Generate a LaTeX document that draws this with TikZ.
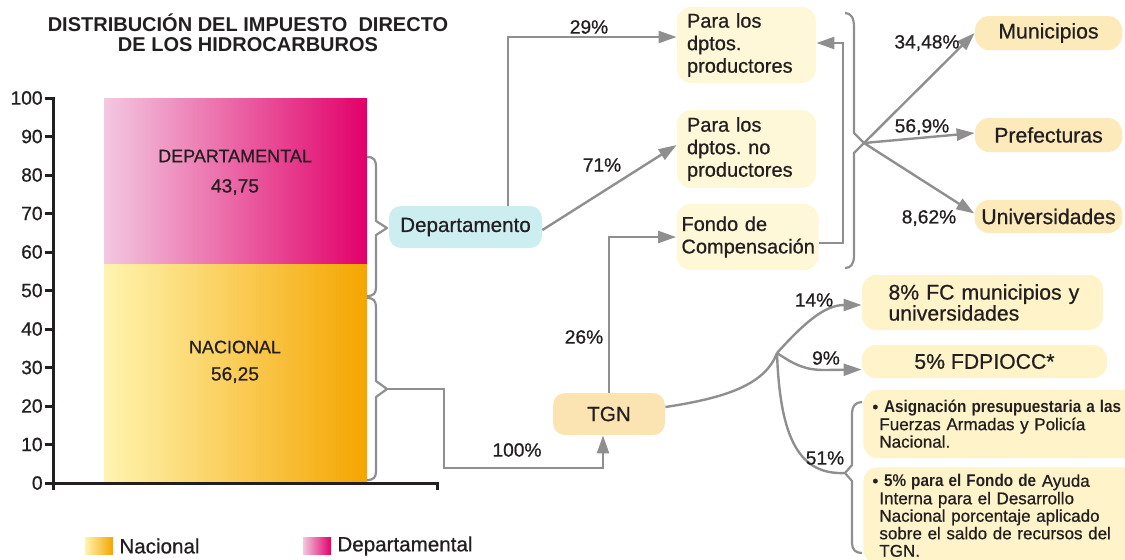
\documentclass[tikz,border=0pt]{standalone}
\usepackage{fontspec}
\setmainfont{Liberation Sans}[UprightFeatures={FakeBold=0.7}]
\usetikzlibrary{arrows.meta,calc}
\frenchspacing
\definecolor{ink}{HTML}{231F20}
\definecolor{cgray}{HTML}{8F8F8F}
\definecolor{pinkL}{HTML}{F3C8E0}
\definecolor{mag}{HTML}{E2006A}
\definecolor{yelL}{HTML}{FFF4B0}
\definecolor{orng}{HTML}{F5A500}
\definecolor{cyanF}{HTML}{CDEEF0}
\definecolor{paleY}{HTML}{FFF8D8}
\definecolor{tanY}{HTML}{FCEABB}
\definecolor{tgnF}{HTML}{FCE3B2}
\definecolor{boxY}{HTML}{FEF3C9}
\tikzset{
  conn/.style={draw=cgray, line width=1.2pt},
  arr/.style={conn, -{Triangle[length=9pt,width=6pt]}},
  bracep/.style={draw=cgray, line width=1.1pt, line join=round},
  axisl/.style={draw=ink, line width=1.5pt},
  lab/.style={font=\fontsize{9.6}{11}\selectfont, text=ink, inner sep=0pt},
  ticklab/.style={font=\fontsize{9.6}{11}\selectfont, text=ink, inner sep=0pt, anchor=east},
  barlab/.style={font=\fontsize{9}{11}\selectfont, text=ink, inner sep=0pt},
  barval/.style={font=\fontsize{9.6}{11}\selectfont, text=ink, inner sep=0pt},
  boxbase/.style={rounded corners=7pt, inner ysep=0pt, text=ink},
  leftbox/.style={boxbase, fill=paleY, align=left, font=\fontsize{10}{11.25}\selectfont},
  tanbox/.style={boxbase, fill=tanY, font=\fontsize{10.6}{12}\selectfont, minimum width=73.5pt},
  ybox/.style={boxbase, fill=boxY, font=\fontsize{10.6}{10.5}\selectfont},
  smallbox/.style={boxbase, fill=boxY, align=left, font=\fontsize{8.5}{8.75}\selectfont, text width=136pt, inner xsep=8pt},
}
\begin{document}
\begin{tikzpicture}[x=0.5pt,y=-0.5pt]
\useasboundingbox (0,0) rectangle (1125,559);

% title
\node[font=\fontsize{10}{9.75}\selectfont\bfseries, text=ink, align=center, inner sep=0pt] (title) at (248,32.5)
  {DISTRIBUCIÓN DEL IMPUESTO\ \ DIRECTO\\DE LOS HIDROCARBUROS};

% bar
\fill[left color=pinkL, right color=mag] (104,98) rectangle (367,264);
\fill[left color=yelL, right color=orng] (104,264) rectangle (367,481);
\node[barlab] (deplab) at (235,156) {DEPARTAMENTAL};
\node[barval] (depval) at (235,187) {43,75};
\node[barlab] (nalab) at (235,347) {NACIONAL};
\node[barval] (naval) at (235,375) {56,25};

% axes
\draw[axisl] (53,97) -- (53,490);
\draw[axisl] (53,483) -- (437,483) -- (437,490);
\foreach \v in {0,10,...,100}{
  \pgfmathsetmacro{\yy}{483-3.85*\v}
  \draw[axisl] (45,\yy) -- (53,\yy);
  \node[ticklab] (t\v) at (43,\yy) {\v};
}

% legend
\fill[left color=yelL, right color=orng] (85,537) rectangle (113,554);
\node[font=\fontsize{10.3}{12}\selectfont, text=ink, anchor=west, inner sep=0pt] (legN) at (119,546) {Nacional};
\fill[left color=pinkL, right color=mag] (303,537) rectangle (331,554);
\node[font=\fontsize{10.3}{12}\selectfont, text=ink, anchor=west, inner sep=0pt] (legD) at (337,546) {Departamental};

% brace tips
\coordinate (deptip) at (387,228);
\coordinate (natip) at (387,389);
\coordinate (bigtip) at (864,143);
\coordinate (brtip) at (845,473);
\coordinate (branch) at (777,353);

% left braces
\draw[bracep] (367,157) .. controls (374,157) and (376,160) .. (376,167) -- (376,221) -- (deptip) -- (376,235) -- (376,287) .. controls (376,293) and (374,296) .. (367,296);
\draw[bracep] (367,298) .. controls (374,298) and (376,301) .. (376,308) -- (376,381) -- (natip) -- (376,397) -- (376,471) .. controls (376,477) and (374,480) .. (367,480);

% nodes
\node[boxbase, fill=cyanF, rounded corners=6pt, font=\fontsize{10.3}{12}\selectfont, minimum width=76.5pt, minimum height=21pt, inner xsep=0pt] (dep) at (465.5,227) {Departamento};
\node[leftbox, text width=59.5pt, inner xsep=5pt, minimum height=38pt] (prod) at (746.5,45) {Para los\\dptos.\\productores};
\node[leftbox, text width=59.5pt, inner xsep=5pt, minimum height=39pt] (noprod) at (746.5,149) {Para los\\dptos. no\\productores};
\node[leftbox, text width=66pt, inner xsep=2.5pt, minimum height=33pt] (fondo) at (747.5,237) {Fondo de\\Compensación};
\node[tanbox, minimum height=17pt] (muni) at (1048.5,33) {Municipios};
\node[tanbox, minimum height=17pt] (pref) at (1048.5,135) {Prefecturas};
\node[tanbox, minimum height=16.5pt] (univ) at (1048.5,216.5) {Universidades};
\node[boxbase, fill=tgnF, rounded corners=6pt, font=\fontsize{10.3}{12}\selectfont, minimum width=56pt, minimum height=21pt] (tgn) at (609,414) {TGN};
\node[ybox, align=left, text width=106pt, inner xsep=7.25pt, minimum height=27.5pt] (fc) at (982.5,302.5) {\hspace*{6pt}8\% FC municipios y\\\hspace*{6pt}universidades};
\node[ybox, minimum width=122.5pt, minimum height=16.5pt] (fdp) at (984.5,361.5) {5\% FDPIOCC*};
\node[smallbox, minimum height=34pt, anchor=west] (asig) at (863,424)
  {\hspace*{-3.5pt}\textbullet\ \scalebox{0.9}[1]{\bfseries Asignación presupuestaria a las}\\Fuerzas Armadas y Policía\\Nacional.};
\node[smallbox, inner ysep=3.5pt, anchor=north west] (fondoa) at (863,467)
  {\hspace*{-3.5pt}\textbullet\ \scalebox{0.9}[1]{\bfseries 5\% para el Fondo de} Ayuda\\Interna para el Desarrollo\\Nacional porcentaje aplicado\\sobre el saldo de recursos del\\TGN.};

% big brace
\draw[bracep] (845,13) .. controls (851,13) and (854,18) .. (854,27) -- (854,133) -- (bigtip) -- (854,153) -- (854,255) .. controls (854,264) and (851,268) .. (845,268);
% bottom-right brace
\draw[bracep] (862,402) .. controls (856,402) and (852,406) .. (852,413) -- (852,465) -- (brtip) -- (852,481) -- (852,543) .. controls (852,550) and (856,553) .. (862,553);

% connectors
\draw[arr] ([xshift=21.25pt]dep.north) |- ([yshift=4pt]prod.west);
\draw[arr] ([yshift=-1.5pt]dep.east) -- ([yshift=2pt]noprod.west);
\draw[arr] (tgn.north) |- (fondo.west);
\draw[arr] ([yshift=-3pt]fondo.east) -- ++(12pt,0) |- ([yshift=1pt]prod.east);
\draw[arr] (natip) -- (444,389) -- (444,468) -| ([xshift=-3pt]tgn.south);
\draw[arr] (bigtip) -- (muni.west);
\draw[arr] (bigtip) -- ([yshift=1pt]pref.west);
\draw[arr] (bigtip) -- ([yshift=1.5pt]univ.west);
\draw[conn] ([yshift=3.5pt]tgn.east) .. controls (725,398) and (765,385) .. (branch);
\draw[arr] (branch) .. controls (805,322) and (825,305) .. ([yshift=-1.25pt]fc.west);
\draw[arr] (branch) .. controls (795,365) and (805,370) .. (825,370) -- ([yshift=-4pt]fdp.west);
\draw[conn] (branch) .. controls (780,440) and (800,475) .. (brtip);

% labels
\node[lab] (l29) at (589,27) {29\%};
\node[lab] (l71) at (602,165) {71\%};
\node[lab] (l26) at (584,337) {26\%};
\node[lab] (l100) at (517,450) {100\%};
\node[lab] (l3448) at (927,43) {34,48\%};
\node[lab] (l569) at (922,127) {56,9\%};
\node[lab] (l862) at (929,218) {8,62\%};
\node[lab] (l14) at (814,300) {14\%};
\node[lab] (l9) at (826,358) {9\%};
\node[lab] (l51) at (825,458) {51\%};
\end{tikzpicture}
\end{document}
